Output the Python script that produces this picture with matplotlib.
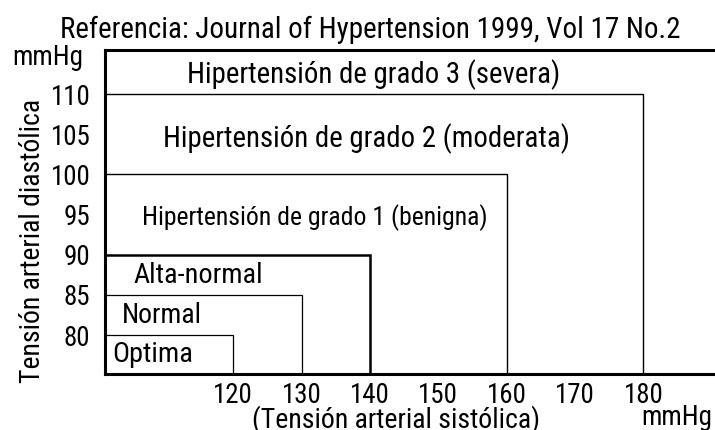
import matplotlib
matplotlib.use("Agg")
import matplotlib.pyplot as plt
from matplotlib import font_manager

names = {f.name for f in font_manager.fontManager.ttflist}
prefs = ["Liberation Sans Narrow", "Arial Narrow", "Roboto Condensed",
         "Archivo Narrow", "PT Sans Narrow", "Fira Sans Condensed",
         "Sofia Sans Condensed", "Liberation Sans"]
narrow = next(p for p in prefs if p in names)
plt.rcParams['font.family'] = [narrow, 'DejaVu Sans']

# Data
categories = ["Optima", "Normal", "Alta-normal",
              "Hipertensión de grado 1 (benigna)",
              "Hipertensión de grado 2 (moderata)",
              "Hipertensión de grado 3 (severa)"]
systolic_limits = [120, 130, 140, 160, 180]
diastolic_limits = [80, 85, 90, 100, 110]
x_ticks = [120, 130, 140, 150, 160, 170, 180]
y_ticks = [80, 85, 90, 95, 100, 105, 110]

title = "Referencia: Journal of Hypertension 1999, Vol 17 No.2"
unit = "mmHg"
y_label = "Tensión arterial diastólica"
x_label = "(Tensión arterial sistólica)"

W, H = 715, 430
fig = plt.figure(figsize=(W / 100, H / 100), dpi=100)
ax = fig.add_axes([105 / W, 1 - 374 / H, 1 - 105 / W + 0.01, (374 - 50) / H])

xmin, xmax = 101.27, 191.5
ymin, ymax = 75.15, 115.48
ax.set_xlim(xmin, xmax)
ax.set_ylim(ymin, ymax)

widths = [0.9, 0.9, 1.8, 1.0, 1.0]
for x, y, lw in zip(systolic_limits, diastolic_limits, widths):
    ax.plot([xmin, x, x], [y, y, ymin], color="black", lw=lw,
            solid_joinstyle="miter", clip_on=False)

ax.spines['right'].set_visible(False)
for s in ['left', 'bottom', 'top']:
    ax.spines[s].set_linewidth(2.2)

ax.set_xticks(x_ticks)
ax.set_xticklabels([str(v) for v in x_ticks])
ax.set_yticks(y_ticks)
ax.set_yticklabels([str(v) for v in y_ticks])
ax.tick_params(axis='both', length=0)
ax.tick_params(axis='y', pad=10.5)
ax.tick_params(axis='x', pad=6)


def px(x, y):
    return x / W, 1 - y / H


# (left x px, baseline y px, target width px)
label_layout = [(112, 362, 81), (122, 323, 80), (133, 283, 129),
                (142, 225, 346), (163, 147, 404), (187, 83, 372)]
fitted = []
for text, (lx, by, tw) in zip(categories, label_layout):
    t = fig.text(*px(lx, by), text, ha='left', va='baseline', fontsize=20)
    fitted.append((t, tw, 'w'))

t = fig.text(*px(60, 38), title, ha='left', va='baseline', fontsize=20)
fitted.append((t, 618, 'w'))
t = fig.text(*px(12, 65), unit, ha='left', va='baseline', fontsize=20)
fitted.append((t, 71, 'w'))
t = fig.text(*px(252, 428), x_label, ha='left', va='baseline', fontsize=20)
fitted.append((t, 289, 'w'))
t = fig.text(*px(641, 425), unit, ha='left', va='baseline', fontsize=20)
fitted.append((t, 71, 'w'))
t = fig.text(*px(32.5, 241), y_label, ha='center', va='center',
             rotation=90, fontsize=20)
fitted.append((t, 284, 'h'))

fig.canvas.draw()
r = fig.canvas.get_renderer()
for t, tw, dim in fitted:
    bb = t.get_window_extent(r)
    cur = bb.width if dim == 'w' else bb.height
    t.set_fontsize(t.get_fontsize() * tw / cur)

# tick label size: "120" should be ~40 px wide
probe = fig.text(0, 0, "120", fontsize=20)
bw = probe.get_window_extent(r).width
probe.remove()
tick_fs = 20 * 40 / bw
for lab in ax.get_xticklabels() + ax.get_yticklabels():
    lab.set_fontsize(tick_fs)

fig.savefig("out.png", dpi=100)
